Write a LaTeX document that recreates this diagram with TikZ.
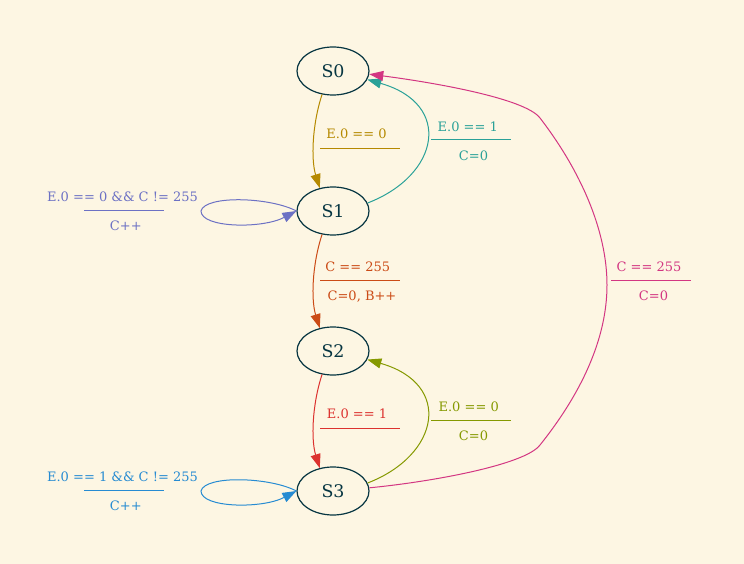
\documentclass[tikz,border=0pt]{standalone}
\usepackage{fontspec}
\setmainfont{DejaVu Serif}
\usetikzlibrary{shapes.geometric,arrows.meta}
\definecolor{bg}{HTML}{FDF6E3}
\definecolor{base}{HTML}{073642}
\definecolor{yel}{HTML}{B58900}
\definecolor{cya}{HTML}{2AA198}
\definecolor{vio}{HTML}{6C71C4}
\definecolor{ora}{HTML}{CB4B16}
\definecolor{red}{HTML}{DC322F}
\definecolor{blu}{HTML}{268BD2}
\definecolor{gre}{HTML}{859900}
\definecolor{mag}{HTML}{D33682}
\tikzset{
  state/.style={ellipse, draw=base, line width=1.2pt, text=base, minimum width=72pt, minimum height=48pt, inner sep=0pt, font=\fontsize{17.4}{20}\selectfont},
  edge/.style={line width=1pt, -{Triangle[length=14pt,width=10pt]}},
  lbl/.style={anchor=base, inner sep=0pt, font=\fontsize{13}{15}\selectfont},
  rule/.style={line width=1pt}
}
\begin{document}
\begin{tikzpicture}[x=1pt,y=-1pt]
\fill[bg] (0,0) rectangle (744,564);
\useasboundingbox (0,0) rectangle (744,564);

\node[state] (S0) at (333,71) {S0};
\node[state] (S1) at (333,211) {S1};
\node[state] (S2) at (333,351) {S2};
\node[state] (S3) at (333,491) {S3};

% S0 -> S1
\draw[edge, yel] (S0.245) .. controls (312,125) and (311,160) .. (S1.120);
\node[lbl, text=yel] (l1t) at (356.5,138.7) {E.0 == 0};
\draw[rule, yel] (320,148.3) -- (400,148.3);

% S1 -> S0
\draw[edge, cya] (S1.13) .. controls (440,175) and (453,104) .. (S0.346);
\node[lbl, text=cya] (l2t) at (467.8,131.7) {E.0 == 1};
\draw[rule, cya] (431,140) -- (511,140);
\node[lbl, text=cya] (l2b) at (473.5,160.5) {C=0};

% S1 loop
\draw[edge, vio] (S1.west) .. controls (270,197) and (205,195) .. (201,211) .. controls (201,228) and (262,229) .. (S1.west);
\node[lbl, text=vio] (l3t) at (122.5,201.7) {E.0 == 0 \&\& C != 255};
\draw[rule, vio] (84,210.3) -- (164,210.3);
\node[lbl, text=vio] (l3b) at (125.8,230) {C++};

% S1 -> S2
\draw[edge, ora] (S1.245) .. controls (312,265) and (311,300) .. (S2.120);
\node[lbl, text=ora] (l4t) at (357.7,271.7) {C == 255};
\draw[rule, ora] (320,280.3) -- (400,280.3);
\node[lbl, text=ora] (l4b) at (362,300.3) {C=0, B++};

% S2 -> S3
\draw[edge, red] (S2.245) .. controls (312,405) and (311,440) .. (S3.120);
\node[lbl, text=red] (l5t) at (357,418.7) {E.0 == 1};
\draw[rule, red] (320,428.3) -- (400,428.3);

% S3 -> S2
\draw[edge, gre] (S3.13) .. controls (440,455) and (453,384) .. (S2.346);
\node[lbl, text=gre] (l6t) at (468.7,411.7) {E.0 == 0};
\draw[rule, gre] (431,420.7) -- (511,420.7);
\node[lbl, text=gre] (l6b) at (473.5,440.5) {C=0};

% S3 loop
\draw[edge, blu] (S3.west) .. controls (270,477) and (205,475) .. (201,491) .. controls (201,508) and (262,509) .. (S3.west);
\node[lbl, text=blu] (l7t) at (122.5,481.7) {E.0 == 1 \&\& C != 255};
\draw[rule, blu] (84,490.3) -- (164,490.3);
\node[lbl, text=blu] (l7b) at (125.8,510) {C++};

% S3 -> S0
\draw[edge, mag] (S3.5) .. controls (430,482) and (525,465) .. (540,445)
  .. controls (580,395) and (607,340) .. (607,285)
  .. controls (607,230) and (580,170) .. (540,118)
  .. controls (525,98) and (430,82) .. (S0.355);
\node[lbl, text=mag] (l8t) at (649,271.7) {C == 255};
\draw[rule, mag] (611,280) -- (691,280);
\node[lbl, text=mag] (l8b) at (653.5,300.5) {C=0};
\end{tikzpicture}
\end{document}
